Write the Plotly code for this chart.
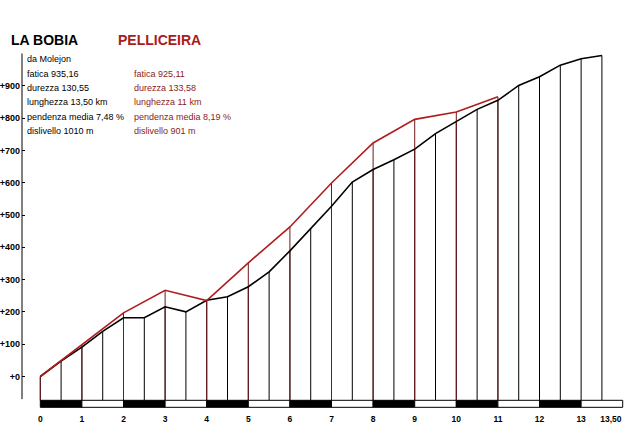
import plotly.graph_objects as go

# ---------------- data ----------------
km_bobia = [0, 0.5, 1, 1.5, 2, 2.5, 3, 3.5, 4, 4.5, 5, 5.5, 6, 6.5, 7, 7.5, 8, 8.5,
            9, 9.5, 10, 10.5, 11, 11.5, 12, 12.5, 13, 13.5]
alt_bobia = [0, 48, 91, 140, 182, 182, 216, 200, 236, 247, 278, 324, 389, 459, 527, 602, 641, 671,
             704, 752, 790, 827, 855, 901, 928, 964, 984, 994]

km_pell = [0, 1, 2, 3, 4, 5, 6, 7, 8, 9, 10, 11]
alt_pell = [0, 98, 197, 267, 235, 352, 463, 599, 723, 796, 819, 866]

y_tick_vals = [0, 100, 200, 300, 400, 500, 600, 700, 800, 900]
y_tick_text = ["+0", "+100", "+200", "+300", "+400", "+500", "+600", "+700", "+800", "+900"]

x_tick_vals = [0, 1, 2, 3, 4, 5, 6, 7, 8, 9, 10, 11, 12, 13]
x_tick_text = ["0", "1", "2", "3", "4", "5", "6", "7", "8", "9", "10", "11", "12", "13"]
x_end_val = [13.5]
x_end_text = ["13,50"]

km_bar_edges = [0, 1, 2, 3, 4, 5, 6, 7, 8, 9, 10, 11, 12, 13, 14]

title_bobia = "LA BOBIA"
title_pell = "PELLICEIRA"
info_bobia = ["da Molejon", "fatica 935,16", "durezza 130,55", "lunghezza 13,50 km",
              "pendenza media 7,48 %", "dislivello 1010 m"]
info_pell = ["fatica 925,11", "durezza 133,58", "lunghezza 11 km",
             "pendenza media 8,19 %", "dislivello 901 m"]

# ---------------- styling / layout constants ----------------
W, H = 640, 448
ML, MR, MT, MB = 22, 15, 50, 40
X_RANGE = [-0.44, 14.055]
Y_RANGE = [-97.5, 1010.8]
BASE = -73.7          # foot of the vertical lines (top of km bar)
BAR_BOTTOM = -95.4
FONT = "Liberation Sans, Arial, sans-serif"

RED_LINE = "#b01c1c"
RED_VERT = "#6e1a1a"
RED_TEXT = "#8b1a1a"
RED_TITLE = "#a81c1c"

fig = go.Figure()

# vertical lines for La Bobia (every 0.5 km)
vx, vy = [], []
for k, a in zip(km_bobia, alt_bobia):
    vx += [k, k, None]
    vy += [BASE, a, None]
fig.add_trace(go.Scatter(x=vx, y=vy, mode="lines", line=dict(color="#000000", width=1),
                         hoverinfo="skip", showlegend=False))

# vertical lines for Pelliceira (every km)
rx, ry = [], []
for k, a in zip(km_pell, alt_pell):
    rx += [k, k, None]
    ry += [BASE, a, None]
fig.add_trace(go.Scatter(x=rx, y=ry, mode="lines", line=dict(color=RED_VERT, width=1),
                         hoverinfo="skip", showlegend=False))

# profiles
fig.add_trace(go.Scatter(x=km_bobia, y=alt_bobia, mode="lines", name="La Bobia",
                         line=dict(color="#000000", width=1.6), showlegend=False))
fig.add_trace(go.Scatter(x=km_pell, y=alt_pell, mode="lines", name="Pelliceira",
                         line=dict(color=RED_LINE, width=1.6), showlegend=False))

# helper (invisible) trace so the overlay axis carrying the final km label exists
fig.add_trace(go.Scatter(x=x_end_val, y=[None], xaxis="x2", mode="lines",
                         hoverinfo="skip", showlegend=False))

shapes = []
# km bar
for i in range(len(km_bar_edges) - 1):
    shapes.append(dict(type="rect", xref="x", yref="y",
                       x0=km_bar_edges[i], x1=km_bar_edges[i + 1],
                       y0=BAR_BOTTOM, y1=BASE,
                       fillcolor="#000000" if i % 2 == 0 else "#ffffff",
                       line=dict(color="#000000", width=1), layer="above"))
# y axis line
shapes.append(dict(type="line", xref="paper", yref="y", x0=0, x1=0, y0=-70, y1=1000,
                   line=dict(color="#000000", width=1)))


def px2paper(px, py):
    return (px - ML) / (W - ML - MR), (H - MB - py) / (H - MT - MB)


annotations = []
for txt, px, col in [(title_bobia, 9, "#000000"), (title_pell, 116, RED_TITLE)]:
    xp, yp = px2paper(px, 40)
    annotations.append(dict(text=txt, x=xp, y=yp, xref="paper", yref="paper",
                            xanchor="left", yanchor="middle", showarrow=False,
                            font=dict(family=FONT, size=14, color=col, weight="bold")))
rows_y = [59, 73.5, 88, 102.5, 117, 131]
for txt, py in zip(info_bobia, rows_y):
    xp, yp = px2paper(25, py)
    annotations.append(dict(text=txt, x=xp, y=yp, xref="paper", yref="paper",
                            xanchor="left", yanchor="middle", showarrow=False,
                            font=dict(family=FONT, size=9, color="#000000")))
for txt, py in zip(info_pell, rows_y[1:]):
    xp, yp = px2paper(132, py)
    annotations.append(dict(text=txt, x=xp, y=yp, xref="paper", yref="paper",
                            xanchor="left", yanchor="middle", showarrow=False,
                            font=dict(family=FONT, size=9, color=RED_TEXT)))

xtickfont = dict(family=FONT, size=8.5, color="#000000", weight="bold")
ytickfont = dict(family=FONT, size=9, color="#000000", weight="bold")
fig.update_layout(
    width=W, height=H,
    margin=dict(l=ML, r=MR, t=MT, b=MB, pad=0, autoexpand=False),
    paper_bgcolor="#ffffff", plot_bgcolor="#ffffff",
    shapes=shapes, annotations=annotations,
    xaxis=dict(range=X_RANGE, showgrid=False, zeroline=False, showline=False,
               tickmode="array", tickvals=x_tick_vals, ticktext=x_tick_text,
               ticks="", tickangle=0, automargin=False, ticklabelstandoff=4,
               tickfont=xtickfont, fixedrange=True),
    xaxis2=dict(range=X_RANGE, overlaying="x", side="bottom", showgrid=False,
                zeroline=False, showline=False, tickmode="array",
                tickvals=x_end_val, ticktext=x_end_text, ticks="", tickangle=0,
                automargin=False, ticklabelstandoff=4, ticklabelshift=9,
                tickfont=xtickfont, fixedrange=True),
    yaxis=dict(range=Y_RANGE, showgrid=False, zeroline=False, showline=False,
               tickmode="array", tickvals=y_tick_vals, ticktext=y_tick_text,
               ticks="inside", ticklen=3, tickcolor="#000000", automargin=False,
               ticklabelstandoff=1, tickfont=ytickfont, fixedrange=True),
    showlegend=False,
)

fig.write_html("out.html")
